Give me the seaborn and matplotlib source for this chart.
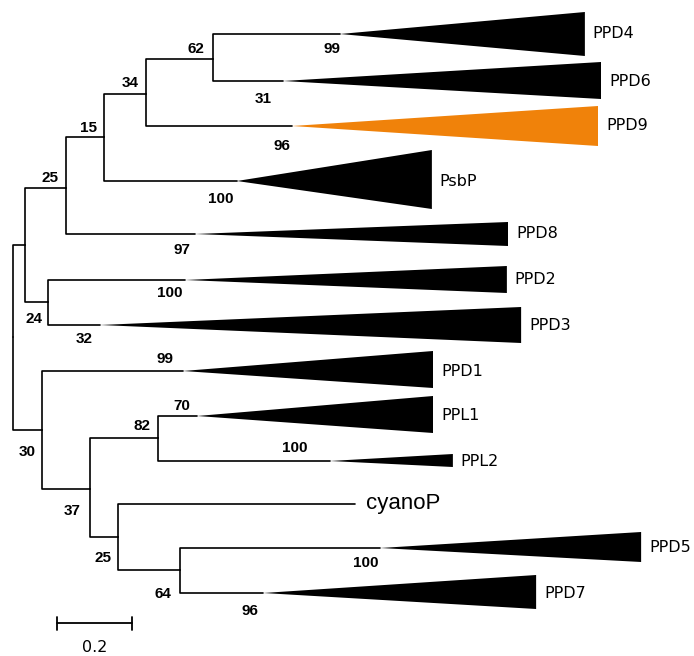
import pandas as pd
import matplotlib
matplotlib.use('Agg')
import matplotlib.pyplot as plt
import seaborn as sns

# internal nodes: name, parent, distance from root (subst./site), branch height
node_names = ['root', 'A', 'B', 'A1', 'A2', 'A1a', 'N34', 'N62', 'C', 'D', 'E', 'F']
node_parent = [None, 'root', 'root', 'A', 'A', 'A1', 'A1a', 'N34', 'B', 'C', 'C', 'E']
node_x = [0.0, 0.032, 0.077, 0.141, 0.093, 0.243, 0.355, 0.533, 0.205, 0.387, 0.280, 0.445]
node_y = [337, 245, 430, 188, 302, 137, 94, 59, 489, 438, 537, 570]

# collapsed clades (triangles): apex position, tip position and tip spread
clade_names = ['PPD4', 'PPD6', 'PPD9', 'PsbP', 'PPD8', 'PPD2', 'PPD3',
               'PPD1', 'PPL1', 'PPL2', 'PPD5', 'PPD7']
clade_parent = ['N62', 'N62', 'N34', 'A1a', 'A1', 'A2', 'A2', 'B', 'D', 'D', 'F', 'F']
clade_y = [34, 81, 126, 181, 234, 280, 325, 371, 416, 461, 548, 593]
clade_apex = [0.872, 0.720, 0.744, 0.597, 0.485, 0.459, 0.232,
              0.453, 0.491, 0.845, 0.979, 0.667]
clade_tip = [1.525, 1.568, 1.560, 1.117, 1.320, 1.317, 1.355,
             1.120, 1.120, 1.173, 1.675, 1.395]
clade_top = [12, 62, 106, 150, 222, 266, 307, 351, 396, 454, 532, 575]
clade_bottom = [56, 99, 146, 209, 246, 293, 343, 388, 433, 467, 562, 609]
highlight = ['PPD9']

# single leaf
leaf_name = 'cyanoP'
leaf_parent = 'E'
leaf_x = 0.912
leaf_y = 504

# bootstrap support values and where they are printed
boot_text = ['62', '99', '31', '34', '15', '96', '25', '100', '97', '100', '24',
             '32', '99', '70', '82', '100', '30', '37', '25', '100', '64', '96']
boot_x = [0.488, 0.851, 0.667, 0.312, 0.200, 0.717, 0.099, 0.555, 0.451, 0.419, 0.056,
          0.189, 0.405, 0.451, 0.344, 0.752, 0.037, 0.157, 0.240, 0.941, 0.400, 0.632]
boot_y = [49, 49, 99, 83, 128, 146, 178, 199, 250, 293, 319,
          339, 359, 406, 426, 448, 452, 511, 558, 563, 594, 611]

scale_len = 0.2

pos = dict(zip(node_names, zip(node_x, node_y)))

# elbow segments parent -> child
rows = []
eid = 0
children = [(n, p, pos[n][0], pos[n][1]) for n, p in zip(node_names, node_parent) if p]
children += [(n, p, a, y) for n, p, a, y in zip(clade_names, clade_parent, clade_apex, clade_y)]
children += [(leaf_name, leaf_parent, leaf_x, leaf_y)]
for name, par, cx, cy in children:
    px, py = pos[par]
    for x, y in [(px, py), (px, cy), (cx, cy)]:
        rows.append({'edge': eid, 'x': x, 'y': y})
    eid += 1
edges = pd.DataFrame(rows)

sns.set_style('white')
plt.rcParams['text.color'] = 'black'
fig = plt.figure(figsize=(6.94, 6.56), dpi=100)
ax = fig.add_axes([0, 0, 1, 1])

sns.lineplot(data=edges, x='x', y='y', units='edge', estimator=None, sort=False,
             color='black', linewidth=1.2, ax=ax, legend=False)

for name, a, t, y, y0, y1 in zip(clade_names, clade_apex, clade_tip, clade_y, clade_top, clade_bottom):
    col = '#F0820A' if name in highlight else 'black'
    ax.fill([a, t, t], [y, y0, y1], color=col, lw=0)
    ax.text(t + 0.021, y, name, ha='left', va='center', fontsize=11.5,
            family='DejaVu Sans', color='black')

ax.text(leaf_x + 0.03, leaf_y, leaf_name, ha='left', va='center', fontsize=16,
        family='Liberation Sans', color='black')

for t, x, y in zip(boot_text, boot_x, boot_y):
    ax.text(x, y, t, ha='center', va='center', fontsize=11, fontweight='bold',
            family='Liberation Sans', color='black')

# scale bar
sx0 = 0.117
ax.plot([sx0, sx0 + scale_len], [623, 623], color='black', lw=1.3)
ax.plot([sx0, sx0], [617, 630], color='black', lw=1.3)
ax.plot([sx0 + scale_len, sx0 + scale_len], [617, 630], color='black', lw=1.3)
ax.text(sx0 + scale_len / 2, 647, f'{scale_len}', ha='center', va='center',
        fontsize=11.5, family='DejaVu Sans', color='black')

ax.set_xlim(-13 / 375, 681 / 375)
ax.set_ylim(656, 0)
ax.axis('off')

fig.savefig('out.png', dpi=100)
